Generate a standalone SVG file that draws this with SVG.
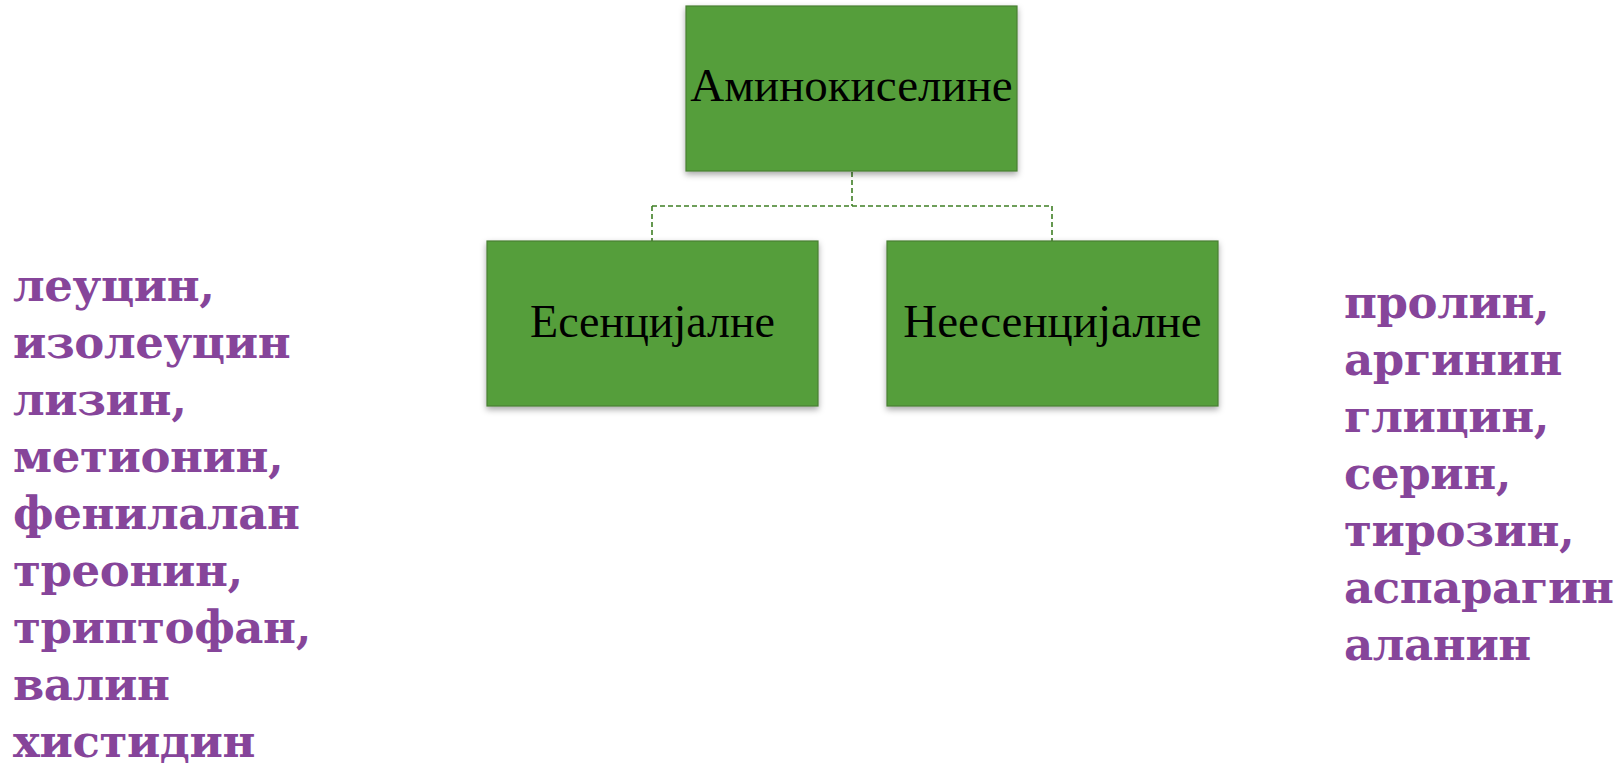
<svg xmlns="http://www.w3.org/2000/svg" width="1624" height="768" viewBox="0 0 1624 768">
<style>
.box{fill:#559e3a;stroke:#4a7f35;stroke-width:1.2;filter:url(#sh)}
.lbl{font-family:"Liberation Serif","Times New Roman",serif;fill:#000;text-anchor:middle}
.list{font-family:"DejaVu Serif",Georgia,serif;font-weight:bold;fill:#86459a;font-size:45px;letter-spacing:-0.4px}
.conn{fill:none;stroke:#3f7f25;stroke-width:1.6;stroke-dasharray:5 3}
</style>
<defs>
<filter id="sh" x="-10%" y="-10%" width="120%" height="130%">
<feDropShadow dx="0" dy="3" stdDeviation="3" flood-color="#000" flood-opacity="0.35"/>
</filter>
</defs>
<rect width="1624" height="768" fill="#fff"/>
<g id="connectors">
<path class="conn" d="M852 172 V206 M652 206 H1052 M652 206 V241 M1052 206 V241"/>
</g>
<g id="node-root">
<rect class="box" x="686" y="6" width="331" height="165"/>
<text class="lbl" x="851.5" y="101" font-size="47">Аминокиселине</text>
</g>
<g id="node-essential">
<rect class="box" x="487" y="241" width="331" height="165"/>
<text class="lbl" x="652.5" y="337" font-size="46">Есенцијалне</text>
</g>
<g id="node-nonessential">
<rect class="box" x="887" y="241" width="331" height="165"/>
<text class="lbl" x="1052.5" y="337" font-size="47">Неесенцијалне</text>
</g>
<g id="list-essential">
<text class="list" x="13" y="301">леуцин,</text>
<text class="list" x="13" y="358">изолеуцин</text>
<text class="list" x="13" y="415">лизин,</text>
<text class="list" x="13" y="472">метионин,</text>
<text class="list" x="13" y="529">фенилалан</text>
<text class="list" x="13" y="586">треонин,</text>
<text class="list" x="13" y="643">триптофан,</text>
<text class="list" x="13" y="700">валин</text>
<text class="list" x="13" y="757">хистидин</text>
</g>
<g id="list-nonessential">
<text class="list" x="1344" y="318">пролин,</text>
<text class="list" x="1344" y="375">аргинин</text>
<text class="list" x="1344" y="432">глицин,</text>
<text class="list" x="1344" y="489">серин,</text>
<text class="list" x="1344" y="546">тирозин,</text>
<text class="list" x="1344" y="603">аспарагин</text>
<text class="list" x="1344" y="660">аланин</text>
</g>
</svg>
